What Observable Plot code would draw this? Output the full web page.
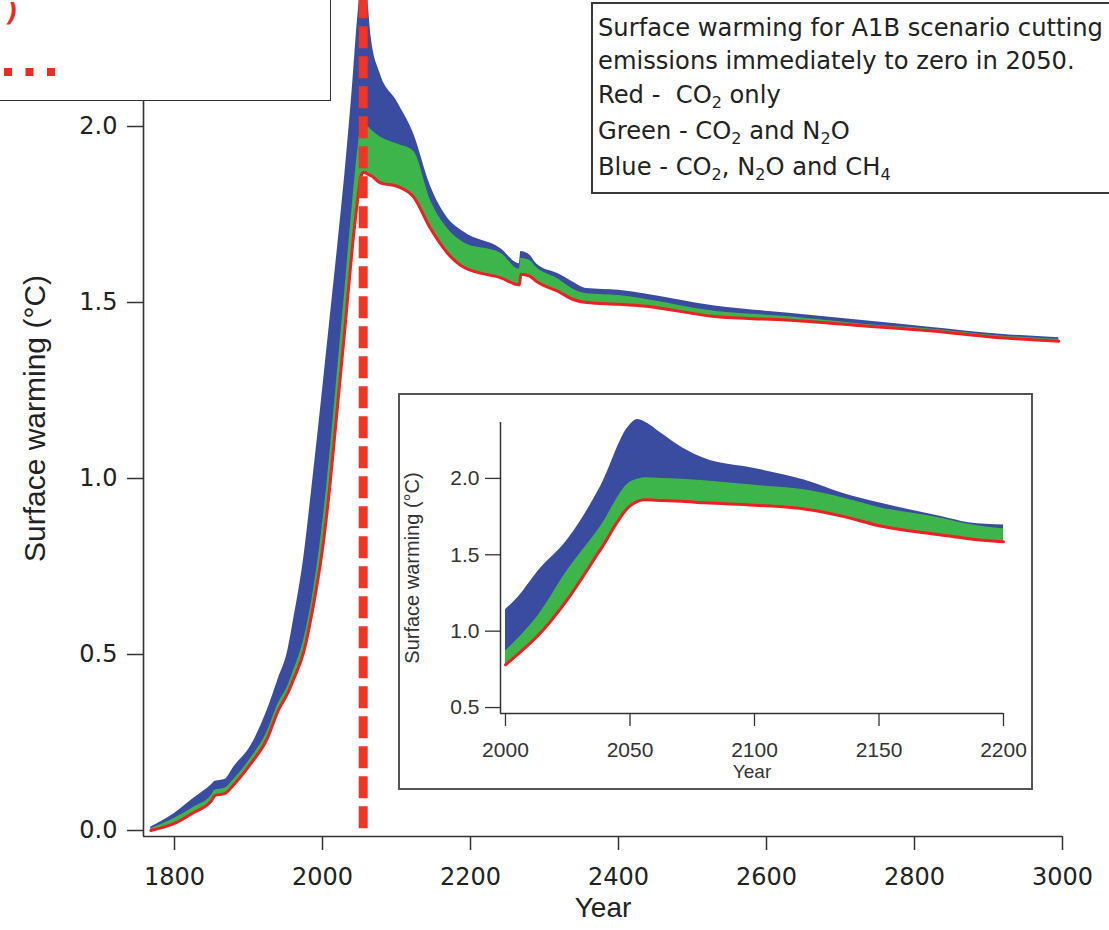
<!DOCTYPE html>
<html>
<head>
<meta charset="utf-8">
<script src="https://cdn.jsdelivr.net/npm/d3@7"></script>
<script src="https://cdn.jsdelivr.net/npm/@observablehq/plot@0.6"></script>
<style>
  html, body { margin: 0; padding: 0; background: #fff; }
  #wrap { position: relative; width: 1109px; height: 930px; overflow: hidden; background: #fff; }
  #main { position: absolute; left: 0; top: 0; }
  #inset { position: absolute; left: 398px; top: 393px; width: 635px; height: 397px; box-sizing: border-box; border: 2px solid #555; background: #fff; }
  #legendR { position: absolute; left: 591px; top: 2px; width: 560px; height: 192px; box-sizing: border-box; border: 2px solid #3a3a3a; background: #fff;
    font-family: "DejaVu Sans", sans-serif; font-size: 24.2px; color: #222; }
  #legendR div { position: absolute; left: 5px; white-space: nowrap; line-height: 1; }
  #legendR sub { font-size: 16px; vertical-align: -5px; }
  #legendL { position: absolute; left: -10px; top: -10px; width: 341px; height: 111px; box-sizing: border-box; border: 1.5px solid #333; background: #fff; }
</style>
</head>
<body>
<div id="wrap">
  <div id="main"></div>
  <div id="inset"></div>
  <div id="legendL">
    <svg width="341" height="111" style="position:absolute;left:0;top:0">
      <text x="16" y="30" fill="#ee2a24" font-family="DejaVu Sans" font-style="italic" font-weight="bold" font-size="24">)</text>
      <line x1="13" y1="81" x2="64" y2="81" stroke="#ee2a24" stroke-width="8" stroke-dasharray="8 13.5"></line>
    </svg>
  </div>
  <div id="legendR">
    <div style="top:12px">Surface warming for A1B scenario cutting</div>
    <div style="top:45px">emissions immediately to zero in 2050.</div>
    <div style="top:79px">Red -&nbsp; CO<sub>2</sub> only</div>
    <div style="top:115px">Green - CO<sub>2</sub> and N<sub>2</sub>O</div>
    <div style="top:151px">Blue - CO<sub>2</sub>, N<sub>2</sub>O and CH<sub>4</sub></div>
  </div>
</div>
<script>
// ---- Main chart data ----
const mainYears = [1768, 1800, 1825, 1850, 1855, 1868, 1880, 1903, 1925, 1940, 1953, 1961, 1975, 1986, 2000, 2010, 2020, 2030, 2040, 2048, 2052, 2056, 2061, 2066, 2078, 2101, 2123, 2146, 2169, 2191, 2241, 2266, 2268, 2280, 2289, 2320, 2337, 2357, 2400, 2434, 2530, 2627, 2723, 2820, 2916, 2995];
const mainRed   = [0, 0.02, 0.05, 0.085, 0.10, 0.105, 0.13, 0.19, 0.26, 0.34, 0.39, 0.43, 0.51, 0.62, 0.80, 0.98, 1.20, 1.42, 1.65, 1.80, 1.86, 1.87, 1.865, 1.86, 1.84, 1.83, 1.80, 1.71, 1.64, 1.60, 1.57, 1.55, 1.58, 1.575, 1.56, 1.53, 1.51, 1.50, 1.495, 1.49, 1.46, 1.45, 1.435, 1.42, 1.40, 1.39];
const mainGreen = [0.005, 0.035, 0.065, 0.10, 0.115, 0.12, 0.145, 0.205, 0.28, 0.36, 0.41, 0.455, 0.545, 0.66, 0.87, 1.07, 1.30, 1.53, 1.77, 1.94, 2.0, 2.0, 2.0, 1.99, 1.97, 1.95, 1.93, 1.79, 1.71, 1.67, 1.64, 1.595, 1.625, 1.62, 1.60, 1.565, 1.54, 1.525, 1.52, 1.51, 1.475, 1.46, 1.44, 1.425, 1.405, 1.395];
const mainBlue  = [0.01, 0.048, 0.09, 0.13, 0.14, 0.145, 0.18, 0.24, 0.34, 0.43, 0.51, 0.60, 0.78, 0.98, 1.25, 1.45, 1.65, 1.86, 2.10, 2.32, 2.40, 2.42, 2.36, 2.25, 2.15, 2.07, 1.98, 1.83, 1.74, 1.70, 1.653, 1.61, 1.645, 1.635, 1.61, 1.58, 1.56, 1.54, 1.535, 1.525, 1.49, 1.47, 1.45, 1.43, 1.41, 1.40];
const cutoffYear = 2055;
const mainXTicks = [1800, 2000, 2200, 2400, 2600, 2800, 3000];
const mainYTicks = [0.0, 0.5, 1.0, 1.5, 2.0];

// ---- Inset data ----
const insetYears = [2000, 2005, 2013, 2025, 2038, 2050, 2053, 2056, 2063, 2071, 2080, 2100, 2120, 2136, 2150, 2175, 2186, 2200];
const insetRed   = [0.78, 0.85, 0.97, 1.21, 1.53, 1.82, 1.85, 1.86, 1.855, 1.85, 1.84, 1.825, 1.80, 1.75, 1.69, 1.63, 1.605, 1.585];
const insetGreen = [0.87, 0.95, 1.10, 1.40, 1.68, 1.975, 1.995, 2.005, 2.0, 1.995, 1.985, 1.955, 1.925, 1.87, 1.81, 1.74, 1.70, 1.67];
const insetBlue  = [1.14, 1.22, 1.39, 1.60, 1.94, 2.35, 2.385, 2.37, 2.29, 2.20, 2.13, 2.065, 1.99, 1.90, 1.84, 1.75, 1.71, 1.695];
const insetXTicks = [2000, 2050, 2100, 2150, 2200];
const insetYTicks = [0.5, 1.0, 1.5, 2.0];

const BLUE = "#3a4ca0", GREEN = "#3db54a", RED = "#ed2024", DASHRED = "#ee3526", AX = "#333";
const CURVE = "monotone-x";

const mainData = mainYears.map((year, i) => ({year, red: mainRed[i], green: mainGreen[i], blue: mainBlue[i]}));
const insetData = insetYears.map((year, i) => ({year, red: insetRed[i], green: insetGreen[i], blue: insetBlue[i]}));

const mainPlot = Plot.plot({
  width: 1109, height: 930,
  marginLeft: 143, marginRight: 47, marginTop: 0, marginBottom: 94,
  style: {background: "transparent", color: AX},
  x: {domain: [1758.1, 3000]},
  y: {domain: [-0.017, 2.358]},
  marks: [
    Plot.areaY(mainData, {x: "year", y1: "red", y2: "blue", fill: BLUE, curve: CURVE}),
    Plot.areaY(mainData, {x: "year", y1: "red", y2: "green", fill: GREEN, curve: CURVE}),
    Plot.lineY(mainData, {x: "year", y: "red", stroke: RED, strokeWidth: 3, curve: CURVE}),
    Plot.ruleX([cutoffYear], {y1: 0.005, y2: 2.358, stroke: DASHRED, strokeWidth: 9, strokeDasharray: "22 8"}),
    Plot.ruleX([1758.1], {stroke: AX, strokeWidth: 1.6}),
    Plot.ruleY([-0.017], {stroke: AX, strokeWidth: 1.6}),
    Plot.axisX({ticks: mainXTicks, tickSize: 14, tickPadding: 17, tickFormat: d => String(d), fontSize: 24, fontFamily: "DejaVu Sans", label: null, stroke: AX, strokeWidth: 1.5, fill: "#222"}),
    Plot.axisY({ticks: mainYTicks, tickSize: 16, tickPadding: 10, tickFormat: d3.format(".1f"), fontSize: 24, fontFamily: "DejaVu Sans", label: null, stroke: AX, strokeWidth: 1.5, fill: "#222"}),
    Plot.text(["Year"], {text: d => d, frameAnchor: "bottom", dy: 80, fontSize: 28, fontFamily: "Liberation Sans", fill: "#222"}),
    Plot.text(["Surface warming (°C)"], {text: d => d, frameAnchor: "left", textAnchor: "middle", dx: -108, rotate: -90, fontSize: 30, fontFamily: "Liberation Sans", fill: "#222"})
  ]
});
document.getElementById("main").appendChild(mainPlot);

const insetPlot = Plot.plot({
  width: 631, height: 393,
  marginLeft: 100, marginRight: 28, marginTop: 27, marginBottom: 75,
  style: {background: "white", color: AX},
  x: {domain: [1998, 2200]},
  y: {domain: [0.461, 2.366]},
  marks: [
    Plot.areaY(insetData, {x: "year", y1: "red", y2: "blue", fill: BLUE, curve: CURVE}),
    Plot.areaY(insetData, {x: "year", y1: "red", y2: "green", fill: GREEN, curve: CURVE}),
    Plot.lineY(insetData, {x: "year", y: "red", stroke: RED, strokeWidth: 3, curve: CURVE}),
    Plot.ruleX([1998], {stroke: AX, strokeWidth: 1.5}),
    Plot.ruleY([0.461], {stroke: AX, strokeWidth: 1.5}),
    Plot.axisX({ticks: insetXTicks, tickSize: 13, tickPadding: 16, tickFormat: d => String(d), fontSize: 21, fontFamily: "Liberation Sans", label: null, stroke: AX, strokeWidth: 1.3, fill: "#333"}),
    Plot.axisY({ticks: insetYTicks, tickSize: 15, tickPadding: 6, tickFormat: d3.format(".1f"), fontSize: 21, fontFamily: "Liberation Sans", label: null, stroke: AX, strokeWidth: 1.3, fill: "#333"}),
    Plot.text(["Year"], {text: d => d, frameAnchor: "bottom", dy: 64, fontSize: 19, fontFamily: "Liberation Sans", fill: "#333"}),
    Plot.text(["Surface warming (°C)"], {text: d => d, frameAnchor: "left", textAnchor: "middle", dx: -88, rotate: -90, fontSize: 20, fontFamily: "Liberation Sans", fill: "#333"})
  ]
});
document.getElementById("inset").appendChild(insetPlot);
</script>
</body>
</html>
